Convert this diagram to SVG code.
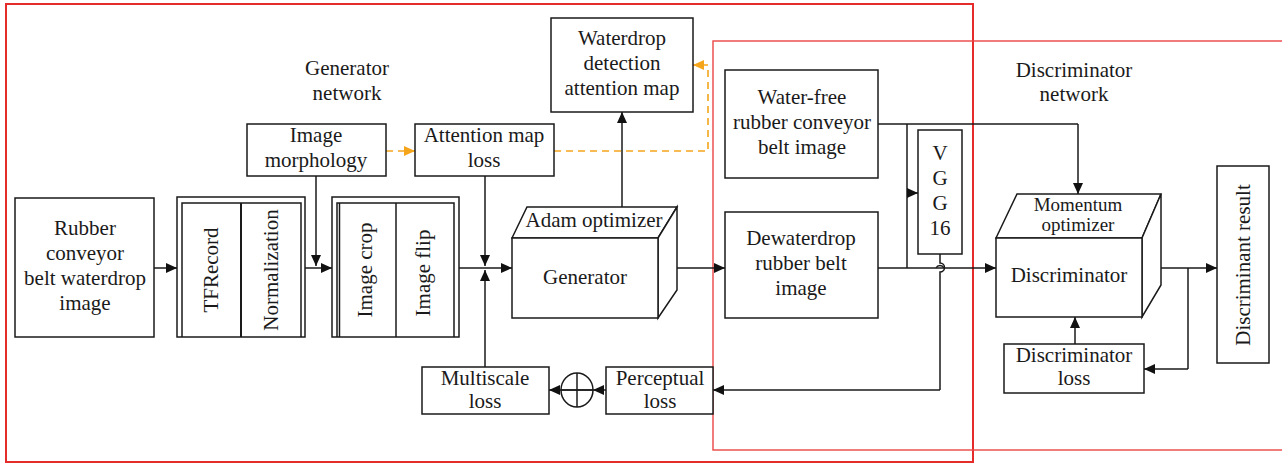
<svg xmlns="http://www.w3.org/2000/svg" width="1282" height="464" viewBox="0 0 1282 464">
<defs>
<marker id="ah" markerWidth="11" markerHeight="10" refX="11" refY="5" orient="auto" markerUnits="userSpaceOnUse"><path d="M0,0 L11,5 L0,10 z" fill="#111"/></marker>
<marker id="aho" markerWidth="11" markerHeight="10" refX="11" refY="5" orient="auto" markerUnits="userSpaceOnUse"><path d="M0,0 L11,5 L0,10 z" fill="#f4a51c"/></marker>
<style>
.b{fill:#fff;stroke:#1a1a1a;stroke-width:1.5}
.n{fill:none;stroke:#1a1a1a;stroke-width:1.5}
.c{fill:none;stroke:#1a1a1a;stroke-width:1.5;marker-end:url(#ah)}
.l{fill:none;stroke:#1a1a1a;stroke-width:1.5}
.o{fill:none;stroke:#f4a51c;stroke-width:1.6;stroke-dasharray:7,5}
.t{font-family:"Liberation Serif","Times New Roman",serif;font-size:21px;fill:#1a1a1a;text-anchor:middle}
.s{font-size:19px}
</style>
</defs>
<rect x="0" y="0" width="1282" height="464" fill="#fff"/>

<g id="regions">
<rect x="6" y="4" width="967" height="458" fill="none" stroke="#e62b2b" stroke-width="2"/>
<rect x="713" y="41" width="580" height="409" fill="none" stroke="#ec4545" stroke-width="1.4"/>
<text class="t" x="347" y="75">Generator</text>
<text class="t" x="347" y="100">network</text>
<text class="t" x="1074" y="77">Discriminator</text>
<text class="t" x="1074" y="101">network</text>
</g>

<g id="connectors">
<line class="c" x1="154" y1="268" x2="177" y2="268"/>
<line class="c" x1="305" y1="268" x2="332" y2="268"/>
<line class="c" x1="316" y1="176" x2="316" y2="266"/>
<line class="c" x1="459" y1="268" x2="512" y2="268"/>
<line class="c" x1="485" y1="176" x2="485" y2="266"/>
<line class="c" x1="485" y1="367" x2="485" y2="270"/>
<line class="c" x1="677" y1="268" x2="725" y2="268"/>
<line class="c" x1="622" y1="207" x2="622" y2="112"/>
<line class="o" x1="386" y1="151" x2="404" y2="151"/>
<line x1="404" y1="151" x2="415" y2="151" stroke="#f4a51c" stroke-width="1.6" marker-end="url(#aho)"/>
<polyline class="o" points="554,151 708,151 708,65 703,65"/>
<line x1="703" y1="65" x2="693" y2="65" stroke="#f4a51c" stroke-width="1.6" marker-end="url(#aho)"/>
<line class="c" x1="878" y1="268" x2="996" y2="268"/>
<polyline class="l" points="878,124 1078,124"/>
<line class="c" x1="1078" y1="124" x2="1078" y2="194"/>
<line class="l" x1="907" y1="124" x2="907" y2="268"/>
<line class="c" x1="907" y1="193" x2="918" y2="193"/>
<path class="n" d="M940,254 L940,263 A4.5,4.5 0 0 1 940,272 L940,390"/>
<path class="n" d="M936,268 A4.5,4.5 0 0 1 944,268"/>
<line class="c" x1="940" y1="390" x2="713" y2="390"/>
<line class="c" x1="606" y1="390" x2="593" y2="390"/>
<line class="c" x1="593" y1="390" x2="549" y2="390"/>
<line class="c" x1="1142" y1="268" x2="1217" y2="268"/>
<polyline class="l" points="1188,268 1188,369"/>
<line class="c" x1="1188" y1="369" x2="1144" y2="369"/>
<line class="c" x1="1075" y1="344" x2="1075" y2="317"/>
</g>

<g id="n-input">
<rect class="b" x="15" y="198" width="139" height="139"/>
<text class="t" x="85" y="235">Rubber</text>
<text class="t" x="85" y="260">conveyor</text>
<text class="t" x="85" y="285">belt waterdrop</text>
<text class="t" x="85" y="310">image</text>
</g>

<g id="n-tfrecord">
<rect class="b" x="177" y="197" width="128" height="140"/>
<polyline class="n" points="182,337 182,203 301,203 301,337"/>
<line x1="241" y1="203" x2="241" y2="337" stroke="#1a1a1a" stroke-width="2"/>
<text class="t" transform="translate(218,270) rotate(-90)">TFRecord</text>
<text class="t" transform="translate(278,270) rotate(-90)">Normalization</text>
</g>

<g id="n-crop">
<rect class="b" x="332" y="197" width="127" height="140"/>
<polyline class="n" points="337,337 337,203 454,203 454,337"/>
<line class="n" x1="339.5" y1="203" x2="339.5" y2="337"/>
<line class="n" x1="396" y1="203" x2="396" y2="337"/>
<text class="t" transform="translate(372,270) rotate(-90)">Image crop</text>
<text class="t" transform="translate(430,273) rotate(-90)">Image flip</text>
</g>

<g id="n-morph">
<rect class="b" x="247" y="124" width="139" height="52"/>
<text class="t" x="316" y="142">Image</text>
<text class="t" x="316" y="167">morphology</text>
</g>

<g id="n-attloss">
<rect class="b" x="415" y="124" width="139" height="52"/>
<text class="t" x="484" y="142">Attention map</text>
<text class="t" x="484" y="167">loss</text>
</g>

<g id="n-attmap">
<rect class="b" x="551" y="18" width="142" height="94"/>
<text class="t" x="622" y="45">Waterdrop</text>
<text class="t" x="622" y="70">detection</text>
<text class="t" x="622" y="95">attention map</text>
</g>

<g id="n-generator">
<path class="b" d="M512,238 L527,207 L677,207 L658,238 Z"/>
<path class="b" d="M658,238 L677,207 L677,290 L658,318 Z"/>
<rect class="b" x="512" y="238" width="146" height="80"/>
<text class="t" x="594" y="227">Adam optimizer</text>
<text class="t" x="585" y="284">Generator</text>
</g>

<g id="n-waterfree">
<rect class="b" x="725" y="70" width="153" height="108"/>
<text class="t" x="802" y="104">Water-free</text>
<text class="t" x="802" y="129">rubber conveyor</text>
<text class="t" x="802" y="154">belt image</text>
</g>

<g id="n-dewater">
<rect class="b" x="725" y="212" width="153" height="106"/>
<text class="t" x="801" y="245">Dewaterdrop</text>
<text class="t" x="801" y="270">rubber belt</text>
<text class="t" x="801" y="295">image</text>
</g>

<g id="n-vgg">
<rect class="b" x="918" y="130" width="44" height="124"/>
<text class="t" x="940" y="160">V</text>
<text class="t" x="940" y="185">G</text>
<text class="t" x="940" y="210">G</text>
<text class="t" x="940" y="235">16</text>
</g>

<g id="n-perceptual">
<rect class="b" x="606" y="367" width="107" height="47"/>
<text class="t" x="660" y="385">Perceptual</text>
<text class="t" x="660" y="408">loss</text>
</g>

<g id="n-sum">
<ellipse class="n" cx="577" cy="390" rx="16" ry="17"/>
<line class="n" x1="577" y1="373" x2="577" y2="407"/>
<line class="n" x1="561" y1="390" x2="593" y2="390"/>
</g>

<g id="n-multiscale">
<rect class="b" x="422" y="367" width="127" height="47"/>
<text class="t" x="485" y="385">Multiscale</text>
<text class="t" x="485" y="408">loss</text>
</g>

<g id="n-discriminator">
<path class="b" d="M996,238 L1017,194 L1161,194 L1142,238 Z"/>
<path class="b" d="M1142,238 L1161,194 L1161,285 L1142,317 Z"/>
<rect class="b" x="996" y="238" width="146" height="79"/>
<text class="t s" x="1078" y="211">Momentum</text>
<text class="t s" x="1078" y="231">optimizer</text>
<text class="t" x="1069" y="282">Discriminator</text>
</g>

<g id="n-dloss">
<rect class="b" x="1004" y="344" width="140" height="49"/>
<text class="t" x="1074" y="362">Discriminator</text>
<text class="t" x="1074" y="385">loss</text>
</g>

<g id="n-result">
<rect class="b" x="1217" y="166" width="52" height="197"/>
<text class="t" transform="translate(1250,265) rotate(-90)">Discriminant result</text>
</g>
</svg>
